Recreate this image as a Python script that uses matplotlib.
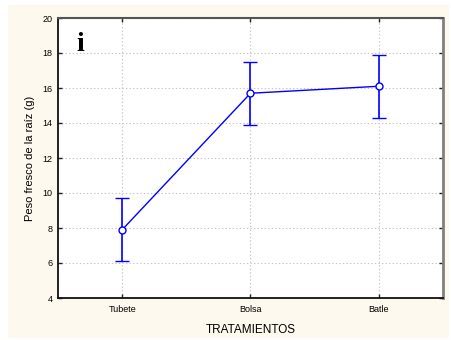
import matplotlib
matplotlib.use("Agg")
import matplotlib.pyplot as plt
from matplotlib.patches import Rectangle

# datos: peso fresco medio y error por tratamiento
tratamientos = ["Tubete", "Bolsa", "Batle"]
peso_medio = [7.9, 15.7, 16.1]
error = [1.8, 1.8, 1.8]
yticks = [4, 6, 8, 10, 12, 14, 16, 18, 20]

plt.rcParams['font.family'] = ['Liberation Sans', 'DejaVu Sans']

fig = plt.figure(figsize=(4.52, 3.40), dpi=100)
fig.patch.set_facecolor('white')
# fondo crema del grafico
fig.patches.append(Rectangle((8 / 452, 2 / 340), 441 / 452, 333 / 340,
                             transform=fig.transFigure, facecolor='#fef9ee',
                             edgecolor='none', zorder=-5))

ax = fig.add_axes([58 / 452, 1 - 298 / 340, 385 / 452, 280 / 340])
ax.set_zorder(2)
ax.set_facecolor('white')

x = list(range(len(tratamientos)))
ax.errorbar(x, peso_medio, yerr=error, color='#0000ff', lw=1.0,
            elinewidth=1.2, capsize=5, capthick=1.2,
            marker='o', markersize=5, markerfacecolor='white',
            markeredgecolor='#0000ff', markeredgewidth=1.0, zorder=3)

ax.set_xlim(-0.5, 2.5)
ax.set_ylim(4, 20)
ax.set_xticks(x)
ax.set_xticklabels(tratamientos, fontsize=6.5)
ax.set_yticks(yticks)
ax.set_yticklabels([str(v) for v in yticks], fontsize=6.5)
ax.tick_params(direction='in', length=3, width=1, color='#222222',
               top=True, right=True, pad=4)
ax.tick_params(axis='x', pad=5)

ax.grid(True, color='#c4c4c4', linestyle=(0, (1.2, 2)), linewidth=0.8)
ax.set_axisbelow(True)

ax.spines['left'].set_color('#111111')
ax.spines['left'].set_linewidth(1.3)
ax.spines['bottom'].set_color('#111111')
ax.spines['bottom'].set_linewidth(1.3)
ax.spines['top'].set_color('#555555')
ax.spines['top'].set_linewidth(1.5)
ax.spines['right'].set_color('#808080')
ax.spines['right'].set_linewidth(2.0)

ax.set_xlabel("TRATAMIENTOS", fontsize=8.5, labelpad=7)
ax.set_ylabel("Peso fresco de la raíz (g)", fontsize=8, labelpad=5)

ax.text(0.057, 0.905, "i", transform=ax.transAxes, fontsize=20,
        fontweight='bold', family='Liberation Serif', ha='center', va='center')

fig.savefig("out.png", dpi=100)
